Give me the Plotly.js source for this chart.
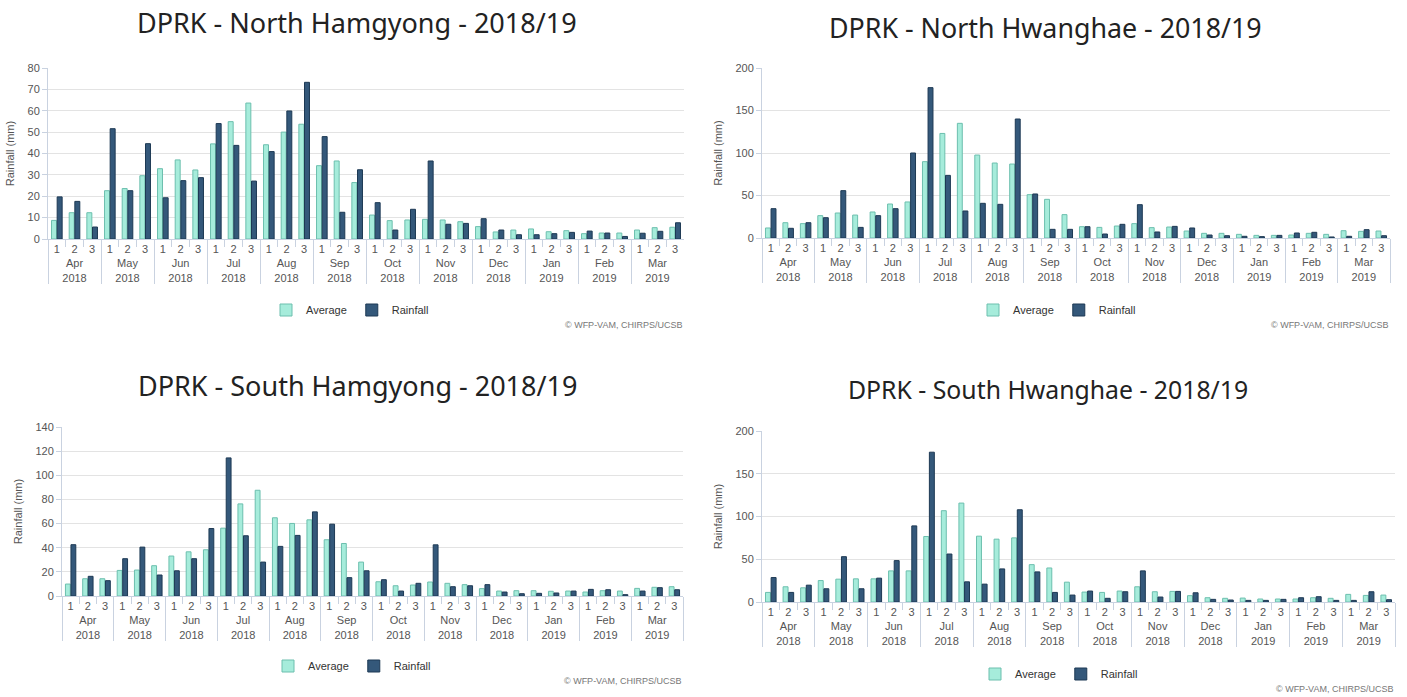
<!DOCTYPE html>
<html>
<head>
<meta charset="utf-8">
<script src="https://cdn.plot.ly/plotly-3.0.1.min.js"></script>
<style>html,body{margin:0;padding:0;background:#fff;}#chart{width:1407px;height:697px;}</style>
</head>
<body>
<div id="chart"></div>
<script>
const months = ['Apr<br>2018','May<br>2018','Jun<br>2018','Jul<br>2018','Aug<br>2018','Sep<br>2018','Oct<br>2018','Nov<br>2018','Dec<br>2018','Jan<br>2019','Feb<br>2019','Mar<br>2019'];
const dekads = ['1','2','3'];

const titles = ['DPRK - North Hamgyong - 2018/19','DPRK - North Hwanghae - 2018/19','DPRK - South Hamgyong - 2018/19','DPRK - South Hwanghae - 2018/19'];

const nHamgyongAvg  = [8.7,12.3,12.3, 22.6,23.6,29.6, 32.9,37,32.3, 44.5,54.9,63.6, 44.1,50,53.7, 34.3,36.5,26.4, 11.2,8.6,8.9, 9.2,8.9,8.1, 5.8,3.3,4.2, 4.7,3.4,3.9, 2.5,2.8,2.8, 4.2,5.3,5.5];
const nHamgyongRain = [19.7,17.6,5.6, 51.6,22.6,44.6, 19.3,27.3,28.7, 54,43.8,27.1, 40.9,59.9,73.3, 47.9,12.5,32.4, 17,4.2,13.9, 36.5,6.9,7.3, 9.5,4.2,2.0, 2.0,2.5,3.1, 3.7,2.8,1.2, 2.7,3.6,7.6];

const nHwanghaeAvg  = [11.8,18,16.9, 26.3,29.4,27, 30.6,40,42.4, 89.8,123,134.9, 97.6,88.2,87, 51,45.5,27.5, 13.3,12.5,14.1, 16.9,12.2,12.9, 8.2,5.5,5.5, 4.3,3.1,3.1, 3.5,5.5,4.3, 8.6,7.8,8.2];
const nHwanghaeRain = [34.5,11.4,18, 23.9,55.7,12.5, 26.3,34.5,100, 176.9,73.7,31.8, 40.8,39.6,140, 51.8,10.2,10.2, 13.3,4.7,16.1, 39.2,7.1,13.7, 11.8,3.5,2.7, 2,1.6,3.1, 5.9,6.7,1.2, 2,9.8,2.7];

const sHamgyongAvg  = [9.9,14.3,14.3, 21.2,21.5,25.1, 33.1,36.6,38.3, 56.2,76.3,87.6, 64.8,60.1,63.1, 46.6,43.5,28.1, 11.8,8.5,9.1, 11.6,10.5,9.4, 6.1,4.1,4.4, 4.4,3.9,4.1, 3.3,4.4,4.1, 6.3,7.2,7.7];
const sHamgyongRain = [42.5,16.3,12.7, 30.9,40.5,17.4, 20.9,30.9,55.9, 114.4,49.9,28.1, 41.1,50.2,69.7, 59.5,15.2,20.9, 13.5,4.1,10.5, 42.4,7.7,8.5, 9.4,3.3,1.9, 2.2,2.5,4.1, 5.5,5.2,1.1, 4.1,6.9,5.2];

const sHwanghaeAvg  = [11.2,17.8,16.6, 25.1,26.7,27.1, 27.1,36.4,36.4, 76.6,106.8,115.7, 77,73.5,75, 43.7,39.8,23.2, 11.6,11.2,12.8, 17.8,12,12.4, 7.4,5,4.3, 4.6,3.5,3.5, 3.5,5,4.3, 8.9,7.7,8.1];
const sHwanghaeRain = [28.6,11.2,19.7, 15.5,53,15.5, 27.9,48.4,89, 175.2,56.1,23.6, 20.9,38.7,107.9, 35.2,11.2,8.1, 12.8,4.3,12, 36.4,5.8,12.4, 10.8,3.1,2.3, 1.9,1.9,3.1, 5,6.2,1.9, 1.9,12,2.7];

const yMax = [80, 200, 140, 200];
const yDtick = [10, 50, 20, 50];
const credit = '© WFP-VAM, CHIRPS/UCSB';

const W = 1407, H = 697;
const px = v => v / W;
const py = v => 1 - v / H;

// panel geometry (pixels)
const panels = [
  {x0:48,  x1:684,  yTop:68,  yZero:239, titleX:357,  titleY:22,  titleSize:27, legX:350,  legY:310, credX:684,  credY:325},
  {x0:762, x1:1390, yTop:68,  yZero:238, titleX:1045, titleY:28,  titleSize:26.8, legX:1057, legY:310, credX:1390, credY:325},
  {x0:62,  x1:683,  yTop:427, yZero:596, titleX:357,  titleY:385, titleSize:27, legX:352,  legY:666, credX:683,  credY:681},
  {x0:762, x1:1395, yTop:431, yZero:602, titleX:1048, titleY:389, titleSize:24.8, legX:1059, legY:674, credX:1395, credY:689}
];

const outer = months.flatMap(m => dekads.map(() => m));
const inner = months.flatMap(() => dekads.slice());
const xCats = [outer, inner];

const avgSeries = [nHamgyongAvg, nHwanghaeAvg, sHamgyongAvg, sHwanghaeAvg];
const rainSeries = [nHamgyongRain, nHwanghaeRain, sHamgyongRain, sHwanghaeRain];

const avgColor = '#a6ecdb', avgLine = '#6cbfae';
const rainColor = '#34587a', rainLine = '#1d3954';
const fontFam = '"Liberation Sans", Arial, sans-serif';

const data = [];
const layout = {
  width: W, height: H,
  margin: {l:0, r:0, t:0, b:0},
  paper_bgcolor: '#fff', plot_bgcolor: '#fff',
  barmode: 'group', bargap: 0.36, bargroupgap: 0.12,
  font: {family: fontFam, color: '#666', size: 11},
  annotations: [],
  showlegend: true
};

panels.forEach((p, i) => {
  const n = i === 0 ? '' : String(i + 1);
  const xa = 'x' + n, ya = 'y' + n;
  const leg = 'legend' + n;
  data.push({
    type: 'bar', name: 'Average', x: xCats, y: avgSeries[i],
    xaxis: xa, yaxis: ya, legend: leg,
    marker: {color: avgColor, line: {color: avgLine, width: 1}},
    hoverinfo: 'y'
  });
  data.push({
    type: 'bar', name: 'Rainfall', x: xCats, y: rainSeries[i],
    xaxis: xa, yaxis: ya, legend: leg,
    marker: {color: rainColor, line: {color: rainLine, width: 1}},
    hoverinfo: 'y'
  });
  layout['xaxis' + n] = {
    type: 'multicategory',
    domain: [px(p.x0), px(p.x1)],
    anchor: ya,
    showline: true, linecolor: '#c9d2e0', linewidth: 1,
    ticks: 'outside', ticklen: 7, tickcolor: '#c9d2e0',
    showgrid: false, zeroline: false,
    showdividers: true, dividercolor: '#c9d2e0', dividerwidth: 1,
    tickfont: {size: 11, color: '#555', family: fontFam},
    fixedrange: true
  };
  layout['yaxis' + n] = {
    domain: [py(p.yZero), py(p.yTop)],
    anchor: xa,
    range: [0, yMax[i]], dtick: yDtick[i],
    showgrid: true, gridcolor: '#e3e3e3', gridwidth: 1,
    zeroline: false,
    showline: true, linecolor: '#c9d2e0', linewidth: 1,
    ticks: 'outside', ticklen: 5, tickcolor: '#c9d2e0',
    tickfont: {size: 11, color: '#555', family: fontFam},
    title: {text: 'Rainfall (mm)', font: {size: 11, color: '#555', family: fontFam}, standoff: 10},
    fixedrange: true
  };
  layout[leg] = {
    orientation: 'h',
    x: px(p.legX), xanchor: 'center',
    y: py(p.legY), yanchor: 'middle',
    font: {size: 11, color: '#333', family: fontFam},
    itemwidth: 30, traceorder: 'normal',
    bgcolor: 'rgba(0,0,0,0)'
  };
  layout.annotations.push({
    xref: 'paper', yref: 'paper', x: px(p.titleX), y: py(p.titleY),
    xanchor: 'center', yanchor: 'middle', showarrow: false,
    text: titles[i],
    font: {family: '"Noto Sans", "Open Sans", sans-serif', size: p.titleSize, color: '#222'}
  });
  layout.annotations.push({
    xref: 'paper', yref: 'paper', x: px(p.credX), y: py(p.credY),
    xanchor: 'right', yanchor: 'middle', showarrow: false,
    text: credit,
    font: {family: fontFam, size: 9, color: '#777'}
  });
});

Plotly.newPlot('chart', data, layout, {displayModeBar: false, staticPlot: true});
</script>
</body>
</html>
